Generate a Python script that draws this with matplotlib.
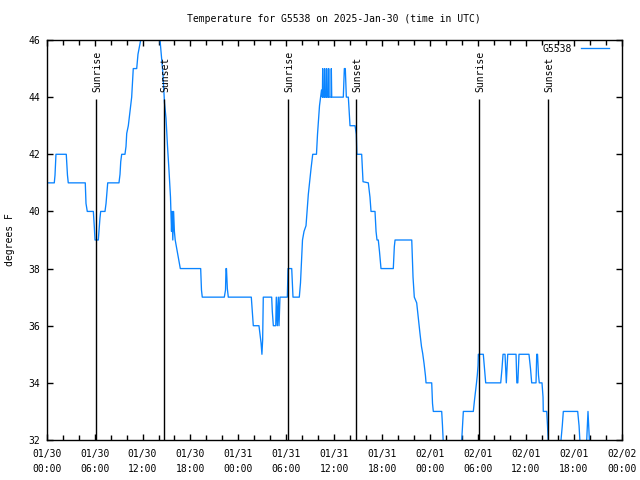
import matplotlib
matplotlib.use("Agg")
import matplotlib.pyplot as plt
from matplotlib.ticker import MultipleLocator

# Hours since 2025-01-30 00:00 UTC and temperature (F)
hours = [0.20, 0.95, 1.04, 1.16, 2.45, 2.60, 2.70, 4.83, 4.92, 5.08, 5.84, 5.96, 6.05, 6.46,
         6.59, 6.67, 6.76, 7.30, 7.43, 7.64, 9.05, 9.18, 9.27, 9.39, 9.80, 9.93, 10.02, 10.22,
         10.43, 10.64, 10.74, 10.84, 11.27, 11.43, 11.77, 12.06, 12.56, 13.31, 13.81, 14.19,
         14.40, 14.56, 14.75, 14.94, 15.13, 15.31, 15.50, 15.63, 15.69, 15.79, 15.89, 15.99,
         16.09, 16.28, 16.57, 16.73, 19.28, 19.38, 19.48, 22.24, 22.39, 22.45, 22.51, 22.62,
         22.74, 25.62, 25.75, 25.87, 26.58, 26.71, 26.84, 26.95, 27.04, 27.12, 28.17, 28.25,
         28.38, 28.68, 28.75, 28.88, 29.00, 29.09, 29.21, 30.13, 30.22, 30.68, 30.84, 31.63,
         31.78, 31.91, 32.03, 32.22, 32.47, 32.60, 32.76, 32.91, 33.10, 33.31, 33.78, 33.91,
         34.04, 34.16, 34.29, 34.41, 34.52, 34.56, 34.61, 34.77, 34.81, 34.86, 35.02, 35.06,
         35.11, 35.27, 35.31, 35.36, 35.60, 35.64, 35.69, 37.14, 37.27, 37.39, 37.52, 37.77,
         37.98, 38.61, 38.77, 38.84, 39.44, 39.61, 40.27, 40.48, 40.61, 41.11, 41.24, 41.36,
         41.52, 41.67, 41.86, 43.40, 43.53, 43.62, 45.71, 45.87, 46.03, 46.33, 46.53, 46.74,
         46.93, 47.08, 47.25, 47.43, 47.50, 48.21, 48.31, 48.41, 49.46, 49.56, 49.66, 49.88,
         51.75, 51.97, 52.07, 52.17, 53.42, 53.57, 53.72, 53.82, 53.92, 54.01, 54.05, 54.67,
         54.82, 54.97, 56.85, 57.01, 57.14, 57.39, 57.55, 57.73, 58.77, 58.87, 58.99, 59.14,
         60.39, 60.58, 60.73, 61.27, 61.36, 61.46, 61.58, 61.68, 62.02, 62.15, 62.18, 62.61,
         62.71, 62.81, 63.03, 64.15, 64.40, 64.56, 64.69, 66.49, 66.66, 66.78, 66.91, 67.41,
         67.62, 67.78, 67.95, 68.04]
temps = [41.0, 41.0, 41.27, 42.0, 42.0, 41.27, 41.0, 41.0, 40.28, 40.0, 40.0, 39.47, 39.0, 39.0,
         39.47, 39.77, 40.0, 40.0, 40.28, 41.0, 41.0, 41.3, 41.74, 42.0, 42.0, 42.27, 42.73, 43.0,
         43.5, 44.0, 44.5, 45.0, 45.0, 45.5, 46.0, 46.5, 47.0, 47.0, 46.5, 46.0,
         45.3, 44.8, 43.8, 43.26, 42.27, 41.45, 40.5, 39.3, 40.0, 39.0, 40.0, 39.3,
         39.0, 38.7, 38.26, 38.0, 38.0, 37.25, 37.0, 37.0, 37.25, 38.0, 38.0, 37.3,
         37.0, 37.0, 36.5, 36.0, 36.0, 35.7, 35.4, 35.0, 35.5, 37.0, 37.0, 36.5,
         36.0, 36.0, 37.0, 36.0, 37.0, 36.0, 37.0, 37.0, 38.0, 38.0, 37.0, 37.0,
         37.5, 38.3, 39.0, 39.3, 39.5, 40.0, 40.6, 41.0, 41.5, 42.0, 42.0, 42.7,
         43.2, 43.7, 44.0, 44.25, 44.0, 45.0, 44.0, 44.0, 45.0, 44.0, 44.0, 45.0,
         44.0, 44.0, 45.0, 44.0, 44.0, 45.0, 44.0, 44.0, 45.0, 45.0, 44.0, 44.0,
         43.0, 43.0, 42.7, 42.0, 42.0, 41.04, 41.0, 40.5, 40.0, 40.0, 39.3, 39.0,
         39.0, 38.6, 38.0, 38.0, 38.77, 39.0, 39.0, 37.7, 37.0, 36.8, 36.26, 35.73,
         35.27, 35.03, 34.68, 34.24, 34.0, 34.0, 33.28, 33.0, 33.0, 32.5, 31.9, 31.5,
         31.5, 32.0, 32.5, 33.0, 33.0, 33.4, 33.75, 34.0, 34.27, 34.6, 35.0, 35.0,
         34.5, 34.0, 34.0, 34.5, 35.0, 35.0, 34.0, 35.0, 35.0, 34.0, 34.0, 35.0,
         35.0, 34.5, 34.0, 34.0, 35.0, 35.0, 34.27, 34.0, 34.0, 33.5, 33.0, 33.0,
         32.5, 31.9, 31.5, 31.5, 32.0, 32.5, 33.0, 33.0, 32.5, 31.9, 31.5, 31.5,
         32.0, 33.0, 32.0, 31.5]

event_hours = [6.17, 14.73, 30.25, 38.77, 54.17, 62.81]
event_labels = ["Sunrise", "Sunset", "Sunrise", "Sunset", "Sunrise", "Sunset"]

xtick_hours = [0, 6, 12, 18, 24, 30, 36, 42, 48, 54, 60, 66, 72]
xtick_labels = ["01/30\n00:00", "01/30\n06:00", "01/30\n12:00", "01/30\n18:00",
                "01/31\n00:00", "01/31\n06:00", "01/31\n12:00", "01/31\n18:00",
                "02/01\n00:00", "02/01\n06:00", "02/01\n12:00", "02/01\n18:00",
                "02/02\n00:00"]
ytick_values = [32, 34, 36, 38, 40, 42, 44, 46]

FONT = "DejaVu Sans Mono"
FS = 7

fig = plt.figure(figsize=(6.4, 4.8), dpi=100)
ax = fig.add_axes([46.7 / 640, 40 / 480, 575 / 640, 400 / 480])

ax.plot(hours, temps, color="#0a84ff", lw=0.95, label="G5538", clip_on=True)

for t, lab in zip(event_hours, event_labels):
    ax.vlines(t, 32, 43.95, color="black", lw=1.0)
    ax.text(t + 0.12, 44.17, lab, rotation=90, ha="center", va="bottom",
            family=FONT, fontsize=FS)

ax.set_xlim(0, 72)
ax.set_ylim(32, 46)
ax.set_xticks(xtick_hours)
ax.set_xticklabels(xtick_labels, family=FONT, fontsize=FS)
ax.xaxis.set_minor_locator(MultipleLocator(2))
ax.set_yticks(ytick_values)
ax.set_yticklabels([str(v) for v in ytick_values], family=FONT, fontsize=FS)
for lbl in ax.get_xticklabels():
    lbl.set_linespacing(1.65)

ax.tick_params(which="both", direction="in", top=True, right=True, width=1.0)
ax.tick_params(which="major", length=4.5)
ax.tick_params(which="minor", length=3.5)
ax.tick_params(axis="x", pad=6.5)
ax.tick_params(axis="y", pad=5)
for s in ax.spines.values():
    s.set_linewidth(1.0)

leg = ax.legend(loc="upper right", frameon=False, markerfirst=False,
                prop={"family": FONT, "size": FS}, handlelength=2.9,
                handletextpad=0.9, borderaxespad=0.3, bbox_to_anchor=(0.99, 1.008))

fig.text(334 / 640, 1 - 19 / 480, "Temperature for G5538 on 2025-Jan-30 (time in UTC)",
         ha="center", va="center", family=FONT, fontsize=FS)
fig.text(10 / 640, 0.5, "degrees F", rotation=90, ha="center", va="center",
         family=FONT, fontsize=FS)

fig.savefig("out.png", dpi=100)
